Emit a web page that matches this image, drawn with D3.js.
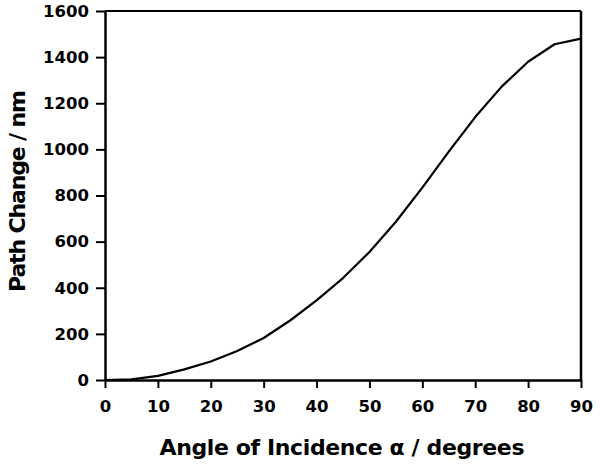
<!DOCTYPE html>
<html>
<head>
<meta charset="utf-8">
<script src="https://cdn.jsdelivr.net/npm/d3@7"></script>
<style>
  html, body { margin: 0; padding: 0; background: #fff; }
  svg { display: block; }
  text { font-family: "DejaVu Sans", sans-serif; font-weight: bold; fill: #000; }
</style>
</head>
<body>
<svg id="chart" width="600" height="466"></svg>
<script>
// Data (angle in degrees, path change in nm)
const angles = [0, 5, 10, 15, 20, 25, 30, 35, 40, 45, 50, 55, 60, 65, 70, 75, 80, 85, 90];
const pathChange = [0, 3, 18, 46, 80, 126, 182, 258, 345, 442, 555, 686, 834, 990, 1140, 1272, 1380, 1456, 1480];
const xTicks = [0, 10, 20, 30, 40, 50, 60, 70, 80, 90];
const yTicks = [0, 200, 400, 600, 800, 1000, 1200, 1400, 1600];
const xTitle = "Angle of Incidence \u03b1 / degrees";
const yTitle = "Path Change / nm";

const svg = d3.select("#chart");
const plotLeft = 105, plotRight = 581, plotTop = 11, plotBottom = 380;

const x = d3.scaleLinear().domain([0, 90]).range([plotLeft, plotRight]);
const y = d3.scaleLinear().domain([0, 1600]).range([plotBottom, plotTop]);

// frame top and right
svg.append("line").attr("x1", plotLeft).attr("x2", plotRight).attr("y1", plotTop).attr("y2", plotTop)
  .attr("stroke", "#000").attr("stroke-width", 2);
svg.append("line").attr("x1", plotRight).attr("x2", plotRight).attr("y1", plotTop).attr("y2", plotBottom)
  .attr("stroke", "#000").attr("stroke-width", 2.5);

const fmt = d3.format("d");
const xAxis = svg.append("g").attr("transform", `translate(0,${plotBottom})`)
  .call(d3.axisBottom(x).tickValues(xTicks).tickFormat(fmt).tickSize(8).tickPadding(12).tickSizeOuter(0));
const yAxis = svg.append("g").attr("transform", `translate(${plotLeft},0)`)
  .call(d3.axisLeft(y).tickValues(yTicks).tickFormat(fmt).tickSize(9).tickPadding(7).tickSizeOuter(0));

[xAxis, yAxis].forEach(g => {
  g.select(".domain").attr("stroke", "#000").attr("stroke-width", 2.5);
  g.selectAll(".tick line").attr("stroke", "#000").attr("stroke-width", 2);
  g.selectAll(".tick text").style("font-family", "'DejaVu Sans', sans-serif")
    .style("font-weight", "bold").style("font-size", "16.5px").attr("fill", "#000");
});

// curve
const line = d3.line().x((d, i) => x(angles[i])).y(d => y(d));
svg.append("path").datum(pathChange).attr("d", line)
  .attr("fill", "none").attr("stroke", "#000").attr("stroke-width", 2.2)
  .attr("stroke-linejoin", "round");

// titles
svg.append("text").attr("x", 342).attr("y", 455).attr("text-anchor", "middle")
  .style("font-size", "22px").attr("textLength", 365).attr("lengthAdjust", "spacing")
  .text(xTitle);
svg.append("text").attr("transform", "translate(25,191) rotate(-90)").attr("text-anchor", "middle")
  .style("font-size", "22px").attr("textLength", 202).attr("lengthAdjust", "spacing")
  .text(yTitle);
</script>
</body>
</html>
